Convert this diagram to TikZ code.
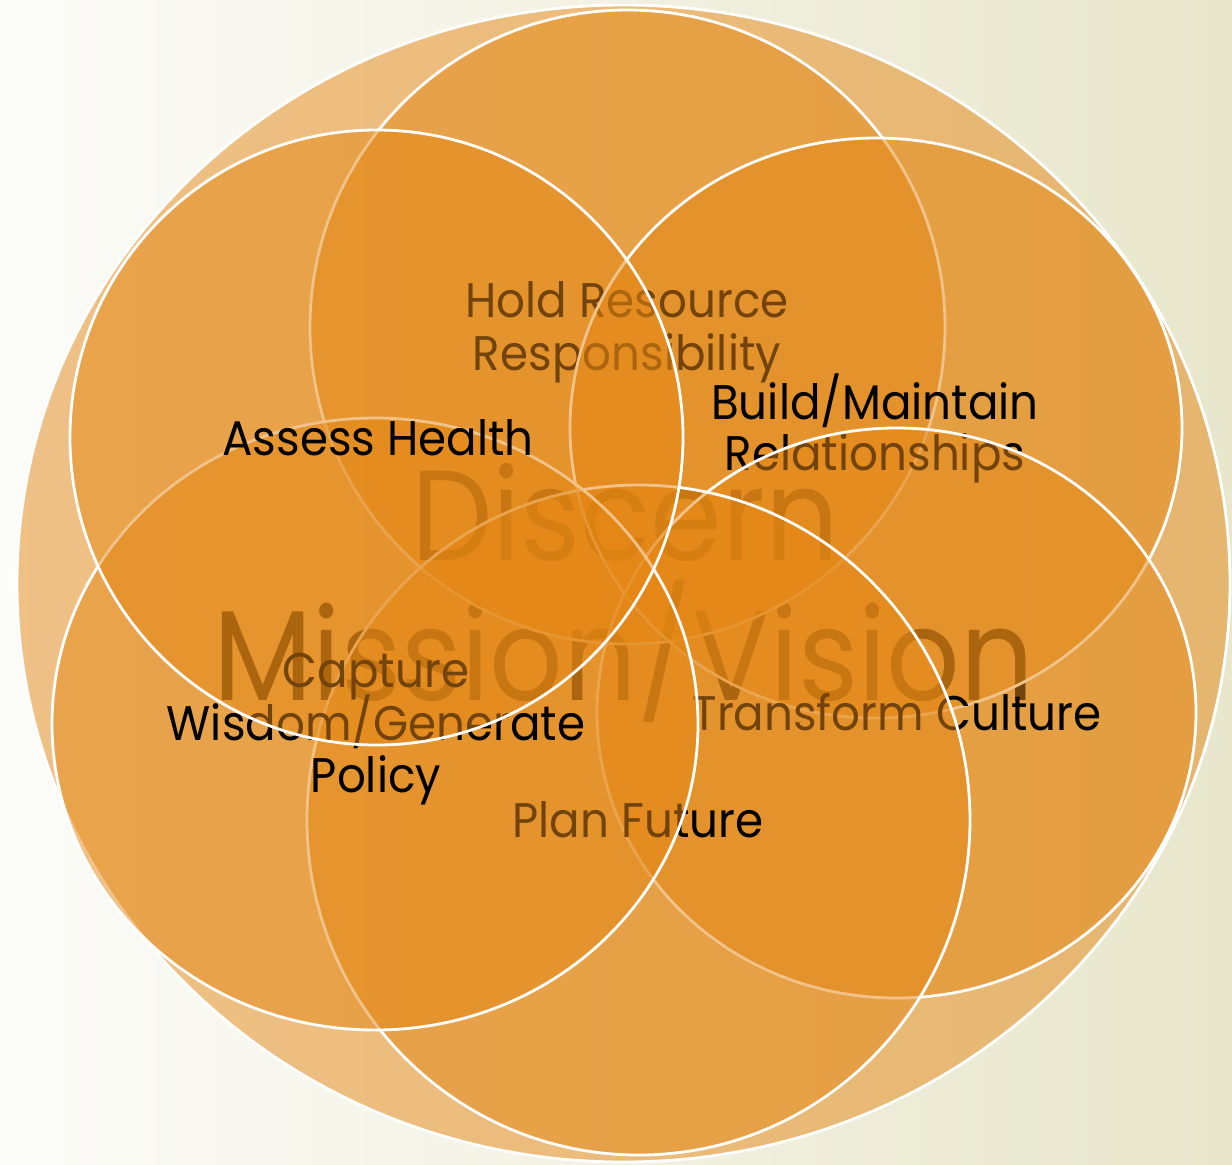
\documentclass[tikz,border=0pt]{standalone}
\usepackage{fontspec}
\setmainfont{Poppins}
\definecolor{petalorange}{RGB}{228,135,20}
\definecolor{bgleft}{RGB}{252,252,249}
\definecolor{bgright}{RGB}{232,230,203}
% slightly condensed setting of the labels
\newcommand{\petaltext}[1]{\scalebox{0.93}[1]{#1}}
\newcommand{\themetext}[1]{\scalebox{0.9}[1]{#1}}
\begin{document}
\begin{tikzpicture}[x=0.5pt,y=-0.5pt,
  petal/.style={fill=petalorange, fill opacity=0.5, draw=white, draw opacity=1, line width=1.4pt},
  lbl/.style={anchor=base, inner sep=0pt, text=black, font=\fontsize{24.3}{26}\selectfont},
  biglbl/.style={anchor=base, inner sep=0pt, text=black, font=\fontsize{64}{70}\selectfont}]
% canvas and backdrop
\useasboundingbox (0,0) rectangle (1232,1164);
\shade[left color=bgleft, right color=bgright] (0,0) rectangle (1232,1164);

% outer disc with the central theme
\path[petal] (623.5,583.5) ellipse [x radius=606.5, y radius=578.5];
\node[biglbl] (discern) at (625,560) {\themetext{Discern}};
\node[biglbl] (mission) at (624,700) {\themetext{Mission/Vision}};

% top petal
\path[petal] (627.5,327) ellipse [x radius=317.5, y radius=317];
\node[lbl] (hold1) at (627,317) {\petaltext{Hold Resource}};
\node[lbl] (hold2) at (627,370) {\petaltext{Responsibility}};

% upper right petal
\path[petal] (876,428) ellipse [x radius=306, y radius=290];
\node[lbl] (build1) at (875,419) {\petaltext{Build/Maintain}};
\node[lbl] (build2) at (875,470) {\petaltext{Relationships}};

% lower right petal
\path[petal] (896.5,713) ellipse [x radius=299.5, y radius=285];
\node[lbl] (transform) at (897,730) {\petaltext{Transform Culture}};

% bottom petal
\path[petal] (638.5,820) ellipse [x radius=331.5, y radius=335];
\node[lbl] (plan) at (638,837) {\petaltext{Plan Future}};

% lower left petal
\path[petal] (375,724) ellipse [x radius=323, y radius=306];
\node[lbl] (capture1) at (376,687) {\petaltext{Capture}};
\node[lbl] (capture2) at (376,740) {\petaltext{Wisdom/Generate}};
\node[lbl] (capture3) at (376,792) {\petaltext{Policy}};

% upper left petal
\path[petal] (376.5,437.5) ellipse [x radius=306.5, y radius=307.5];
\node[lbl] (assess) at (378,455) {\petaltext{Assess Health}};
\end{tikzpicture}
\end{document}
